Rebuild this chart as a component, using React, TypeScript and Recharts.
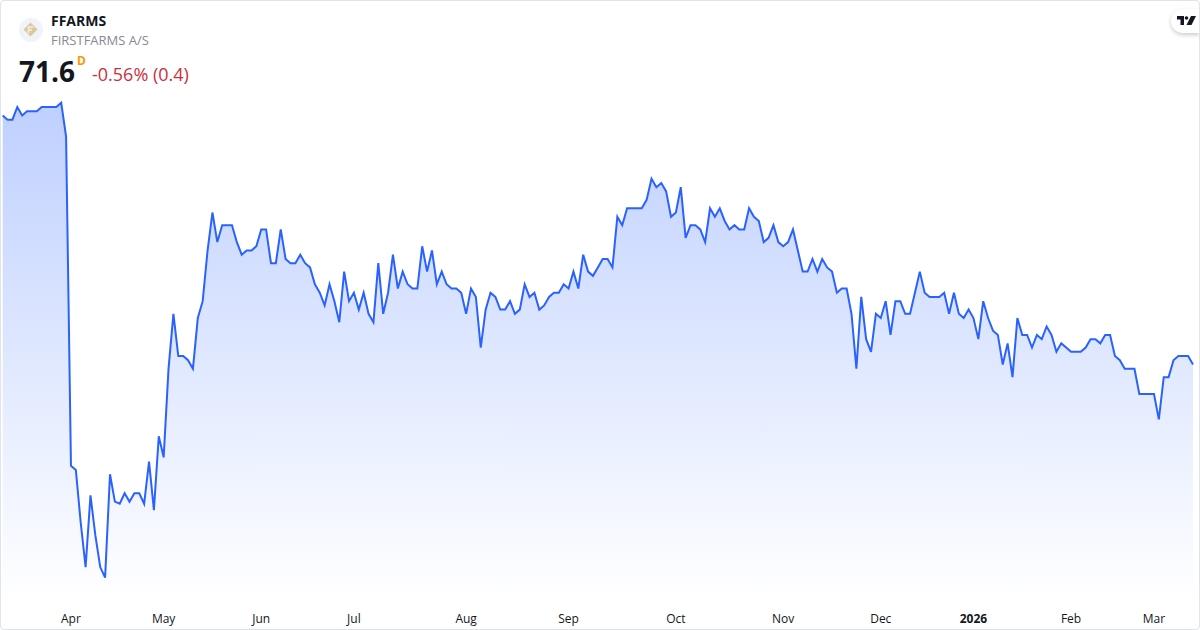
import { AreaChart, Area, XAxis, YAxis } from "recharts";

const prices = [
  83.4, 83.2, 83.2, 83.8, 83.4, 83.6, 83.6, 83.6, 83.8, 83.8, 83.8, 83.8, 84.0, 82.4, 66.8, 66.6, 64.1, 62.0, 65.4, 63.5,
  62.0, 61.5, 66.4, 65.1, 65.0, 65.5, 65.1, 65.5, 65.5, 65.0, 67.0, 64.7, 68.2, 67.2, 71.4, 74.0, 72.0, 72.0, 71.8, 71.4,
  73.8, 74.6, 77.0, 78.8, 77.4, 78.2, 78.2, 78.2, 77.4, 76.8, 77.0, 77.0, 77.2, 78.0, 78.0, 76.4, 76.4, 78.0, 76.6, 76.4,
  76.4, 76.8, 76.4, 76.2, 75.4, 75.0, 74.4, 75.4, 74.6, 73.6, 76.0, 74.6, 75.0, 74.2, 75.0, 74.0, 73.6, 76.4, 74.0, 75.0,
  76.8, 75.2, 76.0, 75.4, 75.2, 75.2, 77.2, 76.0, 77.0, 75.4, 76.0, 75.4, 75.2, 75.2, 75.0, 74.0, 75.2, 74.8, 72.4, 74.2,
  75.0, 74.8, 74.2, 74.2, 74.6, 74.0, 74.2, 75.4, 74.8, 75.0, 74.2, 74.4, 74.8, 75.0, 75.0, 75.4, 75.2, 76.0, 75.2, 76.8,
  76.0, 75.8, 76.2, 76.6, 76.6, 76.2, 78.6, 78.2, 79.0, 79.0, 79.0, 79.0, 79.4, 80.4, 80.0, 80.2, 79.8, 78.6, 78.8, 80.0,
  77.6, 78.2, 78.2, 78.0, 77.4, 79.0, 78.6, 79.0, 78.4, 78.0, 78.2, 78.0, 78.0, 79.0, 78.6, 78.4, 77.4, 77.6, 78.2, 77.4,
  77.2, 77.4, 78.0, 77.0, 76.0, 76.0, 76.6, 76.0, 76.6, 76.2, 76.0, 75.0, 75.2, 75.2, 74.0, 71.4, 74.8, 72.8, 72.2, 74.0,
  73.8, 74.6, 73.0, 74.6, 74.6, 74.0, 74.0, 75.0, 76.0, 75.0, 74.8, 74.8, 74.8, 75.0, 74.0, 75.0, 74.0, 73.8, 74.2, 73.8,
  72.8, 74.6, 73.8, 73.2, 73.0, 71.6, 72.6, 71.0, 73.8, 73.0, 73.0, 72.4, 73.0, 72.8, 73.4, 73.0, 72.2, 72.6, 72.4, 72.2,
  72.2, 72.2, 72.4, 72.8, 72.8, 72.6, 73.0, 73.0, 72.0, 71.8, 71.4, 71.4, 71.4, 70.2, 70.2, 70.2, 70.2, 69.0, 71.0, 71.0,
  71.8, 72.0, 72.0, 72.0, 71.6,
];

const monthTicks = [14, 33, 53, 72, 95, 116, 138, 160, 180, 199, 219, 236];
const monthLabels = ["Apr", "May", "Jun", "Jul", "Aug", "Sep", "Oct", "Nov", "Dec", "2026", "Feb", "Mar"];

const symbol = "FFARMS";
const companyName = "FIRSTFARMS A/S";
const lastPrice = "71.6";
const priceUnit = "D";
const priceChange = "-0.56% (0.4)";

const chartData = prices.map((price, index) => ({ index, price }));
const FONT = '"Open Sans", "Noto Sans", sans-serif';

const MonthTick = ({ x, y, payload }: any) => {
  const label = monthLabels[monthTicks.indexOf(payload.value)];
  return (
    <text
      x={x}
      y={y}
      dy={15}
      textAnchor="middle"
      fontFamily={FONT}
      fontSize={12}
      fontWeight={label === "2026" ? 700 : 400}
      fill="#131722"
    >
      {label}
    </text>
  );
};

const Logo = () => (
  <svg width={24} height={24} viewBox="0 0 24 24" style={{ position: "absolute", left: 19, top: 18 }}>
    <circle cx={12} cy={12} r={12} fill="#f0f3fa" />
    <path d="M11.5 4.5 L18.5 11.5 L11.5 18.5 L4.5 11.5 Z" fill="#dcc99a" />
    <path d="M9.5 15 V9 H14.5 M9.5 12 H13" stroke="#f5efdf" strokeWidth={1.6} fill="none" />
  </svg>
);

const TvBadge = () => (
  <div
    style={{
      position: "absolute",
      left: 1171,
      top: 9,
      width: 29,
      height: 24,
      background: "#fff",
      borderRadius: "12px 0 0 12px",
      boxShadow: "0 2px 4px rgba(0,0,0,0.2)",
    }}
  >
    <svg width={20} height={10} viewBox="0 0 20 10" style={{ position: "absolute", left: 6, top: 7 }}>
      <path d="M0 0 H7 V9 H3.5 V3.5 H0 Z" fill="#131722" />
      <circle cx={9.5} cy={2} r={1.8} fill="#131722" />
      <path d="M14 0 H19 L14.5 9 H9.5 Z" fill="#131722" />
    </svg>
  </div>
);

export default function App() {
  return (
    <div
      style={{
        position: "absolute",
        left: 0,
        top: 0,
        width: 1200,
        height: 630,
        background: "#fff",
        overflow: "hidden",
        fontFamily: FONT,
      }}
    >
      <AreaChart
        width={1200}
        height={630}
        data={chartData}
        margin={{ top: 0, right: 7, bottom: 0, left: 2.67 }}
      >
        <defs>
          <linearGradient id="areaFill" x1="0" y1="0" x2="0" y2="1">
            <stop offset="0%" stopColor="#2962ff" stopOpacity={0.3} />
            <stop offset="100%" stopColor="#2962ff" stopOpacity={0} />
          </linearGradient>
        </defs>
        <XAxis
          dataKey="index"
          type="number"
          domain={[0, 244]}
          ticks={monthTicks}
          interval={0}
          axisLine={false}
          tickLine={false}
          height={30}
          tick={<MonthTick />}
        />
        <YAxis hide domain={[60.44, 88.87]} allowDataOverflow />
        <Area
          type="linear"
          dataKey="price"
          stroke="#2962ff"
          strokeWidth={2}
          fill="url(#areaFill)"
          fillOpacity={1}
          dot={false}
          activeDot={false}
          isAnimationActive={false}
        />
      </AreaChart>

      <Logo />
      <div style={{ position: "absolute", left: 51, top: 12, fontSize: 14, lineHeight: "18px", fontWeight: 700, color: "#131722" }}>
        {symbol}
      </div>
      <div style={{ position: "absolute", left: 51, top: 32, fontSize: 13, lineHeight: "16px", color: "#868993" }}>
        {companyName}
      </div>
      <div style={{ position: "absolute", left: 19, top: 53, fontSize: 28, lineHeight: "36px", fontWeight: 700, color: "#131722" }}>
        {lastPrice}
      </div>
      <div style={{ position: "absolute", left: 77, top: 54, fontSize: 12, lineHeight: "14px", fontWeight: 700, color: "#ff9800" }}>
        {priceUnit}
      </div>
      <div style={{ position: "absolute", left: 92, top: 62, fontSize: 18, lineHeight: "24px", color: "#cc2f3c" }}>
        {priceChange}
      </div>
      <TvBadge />
      <div
        style={{
          position: "absolute",
          left: 0,
          top: 0,
          width: 1198,
          height: 628,
          border: "1px solid #e0e3eb",
          borderRadius: 4,
          pointerEvents: "none",
        }}
      />
    </div>
  );
}
